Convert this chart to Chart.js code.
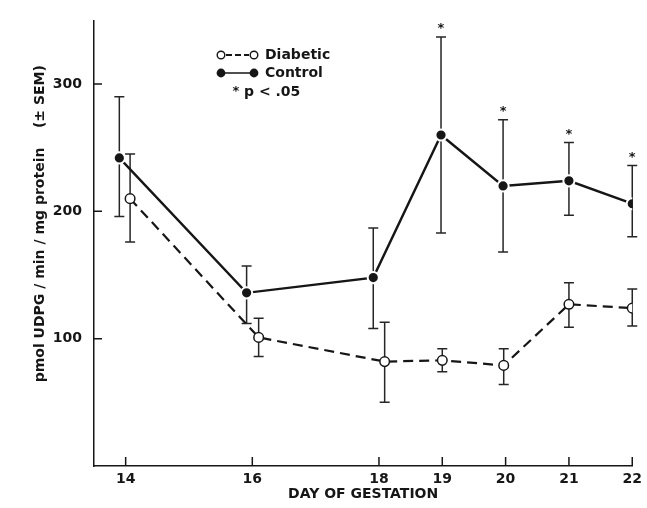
<!DOCTYPE html>
<html>
<head>
<meta charset="utf-8">
<title>UDPG activity by day of gestation</title>
<script src="https://cdn.jsdelivr.net/npm/chart.js@4.4.1/dist/chart.umd.min.js"></script>
<style>
  html, body { margin: 0; padding: 0; background: #fff; }
  #chart { display: block; }
</style>
</head>
<body>
<canvas id="chart" width="647" height="508"></canvas>
<script>
'use strict';

// Axis ticks.
const dayTicks = [14, 16, 18, 19, 20, 21, 22];
const valueTicks = [100, 200, 300];

// Control group (filled circles), mean and +/- SEM.
const controlDays = [13.9, 15.91, 17.91, 18.98, 19.96, 21, 22];
const controlMean = [242, 136, 148, 260, 220, 224, 206];
const controlHigh = [290, 157, 187, 337, 272, 254, 236];
const controlLow = [196, 112, 108, 183, 168, 197, 180];

// Diabetic group (open circles), mean and +/- SEM.
const diabeticDays = [14.07, 16.1, 18.09, 19.0, 19.97, 21, 22];
const diabeticMean = [210, 101, 82, 83, 79, 127, 124];
const diabeticHigh = [245, 116, 113, 92, 92, 144, 139];
const diabeticLow = [176, 86, 50, 74, 64, 109, 110];

// Days where control differs from diabetic (p < .05).
const significantDays = [19, 20, 21, 22];

const FONT = 'DejaVu Sans';
const INK = '#161616';

const toPoints = (days, values) => days.map((d, i) => ({ x: d, y: values[i] }));

// Error bars, drawn under the lines and markers.
const errorBars = {
  id: 'errorBars',
  beforeDatasetsDraw(chart) {
    const { ctx, scales: { x, y } } = chart;
    const groups = [
      [controlDays, controlHigh, controlLow],
      [diabeticDays, diabeticHigh, diabeticLow],
    ];
    ctx.save();
    ctx.strokeStyle = '#262626';
    ctx.lineWidth = 1.5;
    groups.forEach(([days, hi, lo]) => {
      days.forEach((d, i) => {
        const px = x.getPixelForValue(d);
        const top = y.getPixelForValue(hi[i]);
        const bot = y.getPixelForValue(lo[i]);
        ctx.beginPath();
        ctx.moveTo(px, top);
        ctx.lineTo(px, bot);
        ctx.moveTo(px - 5, top);
        ctx.lineTo(px + 5, top);
        ctx.moveTo(px - 5, bot);
        ctx.lineTo(px + 5, bot);
        ctx.stroke();
      });
    });
    ctx.restore();
  },
};

// Inward tick marks, significance stars and the hand-made key.
const annotations = {
  id: 'annotations',
  afterDraw(chart) {
    const { ctx, chartArea, scales: { x, y } } = chart;
    ctx.save();
    ctx.strokeStyle = INK;
    ctx.lineWidth = 1.5;
    ctx.beginPath();
    valueTicks.forEach(v => {
      const py = y.getPixelForValue(v);
      ctx.moveTo(chartArea.left, py);
      ctx.lineTo(chartArea.left + 8, py);
    });
    dayTicks.forEach(d => {
      const px = x.getPixelForValue(d);
      ctx.moveTo(px, chartArea.bottom);
      ctx.lineTo(px, chartArea.bottom - 9);
    });
    ctx.stroke();

    // Stars above the control error bars.
    ctx.fillStyle = INK;
    ctx.font = 'bold 13px "' + FONT + '"';
    ctx.textAlign = 'center';
    ctx.textBaseline = 'middle';
    significantDays.forEach(day => {
      const i = controlDays.findIndex(d => Math.round(d) === day);
      if (i < 0) {
        return;
      }
      ctx.fillText('*', x.getPixelForValue(controlDays[i]), y.getPixelForValue(controlHigh[i]) - 8);
    });

    // Key.
    const kx1 = 221;
    const kx2 = 254;
    const rowD = 55;
    const rowC = 73;
    const rowP = 92;
    ctx.lineWidth = 1.8;
    ctx.setLineDash([6, 3]);
    ctx.beginPath();
    ctx.moveTo(kx1 + 5, rowD);
    ctx.lineTo(kx2 - 5, rowD);
    ctx.stroke();
    ctx.setLineDash([]);
    ctx.lineWidth = 1.4;
    ctx.beginPath();
    ctx.moveTo(kx1, rowC);
    ctx.lineTo(kx2, rowC);
    ctx.stroke();
    [kx1, kx2].forEach(kx => {
      ctx.beginPath();
      ctx.arc(kx, rowD, 3.8, 0, Math.PI * 2);
      ctx.fillStyle = '#fff';
      ctx.fill();
      ctx.lineWidth = 1.4;
      ctx.stroke();
      ctx.beginPath();
      ctx.arc(kx, rowC, 4.4, 0, Math.PI * 2);
      ctx.fillStyle = INK;
      ctx.fill();
    });
    ctx.fillStyle = INK;
    ctx.font = 'bold 14px "' + FONT + '"';
    ctx.textAlign = 'left';
    ctx.fillText('Diabetic', 265, rowD);
    ctx.fillText('Control', 265, rowC);
    ctx.fillText('p < .05', 244, rowP);
    ctx.font = 'bold 13px "' + FONT + '"';
    ctx.textAlign = 'center';
    ctx.fillText('*', 236, rowP);
    ctx.restore();
  },
};

new Chart(document.getElementById('chart').getContext('2d'), {
  type: 'line',
  data: {
    datasets: [
      {
        label: 'Diabetic',
        data: toPoints(diabeticDays, diabeticMean),
        borderColor: INK,
        borderWidth: 2.2,
        borderDash: [10, 6],
        pointRadius: 4.8,
        pointBorderWidth: 1.5,
        pointBackgroundColor: '#fff',
        pointBorderColor: INK,
        tension: 0,
      },
      {
        label: 'Control',
        data: toPoints(controlDays, controlMean),
        borderColor: INK,
        borderWidth: 2.4,
        pointRadius: 5.6,
        pointBorderWidth: 2,
        pointBackgroundColor: INK,
        pointBorderColor: '#fff',
        tension: 0,
      },
    ],
  },
  options: {
    responsive: false,
    animation: false,
    events: [],
    layout: {
      padding: { top: 18, right: 13, left: 0, bottom: 0 },
    },
    plugins: {
      legend: { display: false },
      tooltip: { enabled: false },
    },
    scales: {
      x: {
        type: 'linear',
        min: 13.5,
        max: 22,
        afterBuildTicks: scale => {
          scale.ticks = dayTicks.map(v => ({ value: v }));
        },
        afterFit: scale => {
          scale.height = 42;
        },
        grid: { display: false, drawTicks: false },
        border: { display: true, color: INK, width: 1.5 },
        ticks: {
          padding: 5,
          color: INK,
          font: { family: FONT, size: 14, weight: 'bold' },
          maxRotation: 0,
        },
        title: {
          display: true,
          text: 'DAY OF GESTATION',
          color: INK,
          font: { family: FONT, size: 14, weight: 'bold' },
          padding: { top: 0, bottom: 5 },
        },
      },
      y: {
        type: 'linear',
        min: 0,
        max: 350,
        afterBuildTicks: scale => {
          scale.ticks = valueTicks.map(v => ({ value: v }));
        },
        afterFit: scale => {
          scale.width = 94;
        },
        grid: { display: false, drawTicks: false },
        border: { display: true, color: INK, width: 1.5 },
        ticks: {
          padding: 12,
          color: INK,
          font: { family: FONT, size: 14, weight: 'bold' },
        },
        title: {
          display: true,
          text: '        pmol UDPG / min / mg protein    (\u00b1 SEM)',
          color: INK,
          font: { family: FONT, size: 14, weight: 'bold' },
          padding: { top: 32, bottom: 0 },
        },
      },
    },
  },
  plugins: [errorBars, annotations],
});
</script>
</body>
</html>
